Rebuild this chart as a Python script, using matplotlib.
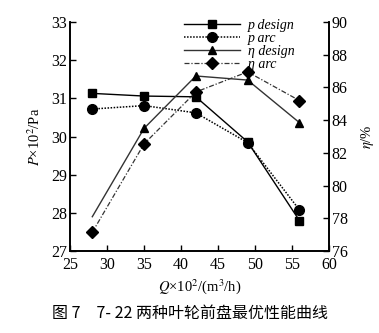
import numpy as np
import matplotlib.pyplot as plt

plt.rcParams['font.family'] = ['Liberation Serif', 'DejaVu Serif']
plt.rcParams['mathtext.fontset'] = 'stix'

# data
Q = [28, 35, 42, 49, 56]
p_design = [31.13, 31.06, 31.04, 29.86, 27.8]
p_arc = [30.72, 30.81, 30.62, 29.84, 28.08]
eta_design = [78.1, 83.5, 86.7, 86.45, 83.85]
eta_arc = [77.15, 82.55, 85.72, 86.95, 85.2]
labels = ['p design', 'p arc', 'η design', 'η arc']

fig = plt.figure(figsize=(3.79, 3.33), dpi=100)
ax = fig.add_axes([0.185, 0.246, 0.683, 0.688])
ax2 = ax.twinx()

l1, = ax.plot(Q, p_design, '-', color='black', lw=1, marker='s', ms=6)
l2, = ax.plot(Q, p_arc, color='black', lw=1.1, ls=(0, (1, 1)), marker='o', ms=7)
l3, = ax2.plot(Q, eta_design, '-', color='#333333', lw=1, marker='^', ms=6,
               mfc='black', mec='black', markevery=[1, 2, 3, 4])
l4, = ax2.plot(Q, eta_arc, color='#333333', lw=0.9, ls=(0, (4, 1.5, 1, 1.5)),
               marker='D', ms=6, mfc='black', mec='black')

ax.set_xlim(25, 60)
ax.set_ylim(27, 33)
ax2.set_ylim(76, 90)
ax.set_xticks(np.arange(25, 61, 5))
ax.set_yticks(np.arange(27, 34, 1))
ax2.set_yticks(np.arange(76, 91, 2))

for a in (ax, ax2):
    a.spines['top'].set_visible(False)
    a.tick_params(direction='in', labelsize=11.5, length=4, width=1, pad=2)
    for s in a.spines.values():
        s.set_linewidth(1.2)
ax.tick_params(axis='x', pad=4)

ax.set_xlabel(r'$Q$×10$^2$/(m$^3$/h)', fontsize=10.5, labelpad=3)
ax.set_ylabel(r'$P$×10$^2$/Pa', fontsize=10.5, labelpad=6)
ax2.set_ylabel(r'$\eta$/%', fontsize=10.5, labelpad=8)

leg = ax.legend([l1, l2, l3, l4], labels,
                loc='upper right', bbox_to_anchor=(0.9, 1.05), frameon=False,
                prop={'family': 'Liberation Serif', 'style': 'italic', 'size': 10},
                handlelength=4.0, labelspacing=0.0,
                handletextpad=0.6, borderpad=0.1)

fig.text(0.5, 0.045, '图 7　7- 22 两种叶轮前盘最优性能曲线', ha='center',
         fontsize=11.5, family=['Noto Sans CJK SC', 'DejaVu Sans'])

fig.savefig('out.png', dpi=100)
